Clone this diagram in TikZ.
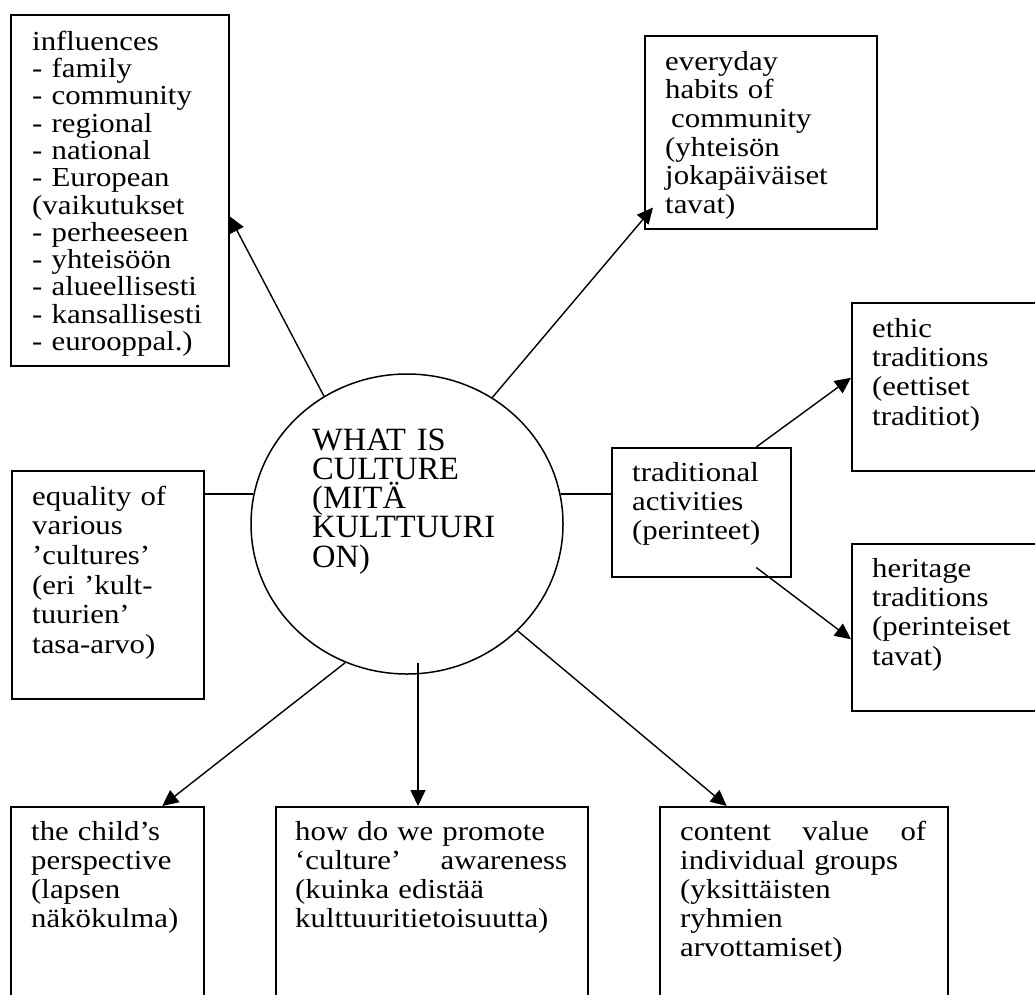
\documentclass[tikz,border=0pt]{standalone}
\usepackage{fontspec}
\setmainfont{Liberation Serif}[FakeStretch=1.12]
\newfontfamily\corefont{Liberation Serif}
\usetikzlibrary{shapes.geometric,arrows.meta,calc}

% first-line strut: puts every first baseline 20pt below the node top
\newcommand{\fl}{\rule{0pt}{20pt}}
\newcommand{\flc}{\rule{0pt}{24pt}}

\tikzset{
  box/.style={draw, rectangle, line width=1.5pt, inner sep=0pt, anchor=north west},
  txt/.style={anchor=north west, inner sep=0pt, align=left, text width=#1,
    font=\fontsize{27.5}{29.3}\selectfont},
  link/.style={line width=1.4pt},
  arr/.style={line width=1.4pt, -{Triangle[length=16pt,width=15pt]}}
}

\begin{document}
% keep the line pitch fixed even for tall glyphs
\lineskiplimit=-100pt
\lineskip=0pt
\begin{tikzpicture}[x=1pt,y=-1pt]
\useasboundingbox (0,0) rectangle (1035,994);
\clip (0,0) rectangle (1035,994);

% central ellipse
\node[draw, ellipse, line width=1.5pt, minimum width=312pt, minimum height=300pt, inner sep=0pt] (core) at (407,524) {};
\node[anchor=north west, inner sep=0pt, align=left, text width=230pt,
      font=\corefont\fontsize{32.5}{29.25}\selectfont] (coreT) at (312,426)
  {\flc WHAT IS\\CULTURE\\(MITÄ\\KULTTUURI\\ON)};

% surrounding boxes
\node[box, minimum width=218pt, minimum height=351pt] (inf) at (10,14) {};
\node[box, minimum width=232pt, minimum height=193pt] (every) at (644,35) {};
\node[box, minimum width=192pt, minimum height=228pt] (eq) at (11,470) {};
\node[box, minimum width=179pt, minimum height=129pt] (trad) at (611,447) {};
\node[box, minimum width=200pt, minimum height=168pt] (ethic) at (851,302) {};
\node[box, minimum width=200pt, minimum height=167pt] (herit) at (851,543) {};
\node[box, minimum width=193pt, minimum height=210pt] (child) at (10,806) {};
\node[box, minimum width=312pt, minimum height=210pt] (prom) at (275,806) {};
\node[box, minimum width=288pt, minimum height=210pt] (cont) at (659,806) {};

% box texts
\node[txt=195pt, font=\fontsize{27.5}{27.3}\selectfont] (infT) at (32,30)
  {\fl influences\\- family\\- community\\- regional\\- national\\- European\\(vaikutukset\\- perheeseen\\- yhteisöön\\- alueellisesti\\- kansallisesti\\- eurooppal.)};
\node[txt=205pt, font=\fontsize{27.5}{28.6}\selectfont] (everyT) at (665,50)
  {\fl everyday\\habits of\\\hspace*{6pt}community\\(yhteisön\\jokapäiväiset\\tavat)};
\node[txt=175pt, font=\fontsize{27.5}{29.6}\selectfont] (eqT) at (32,485)
  {\fl equality of\\various\\’cultures’\\(eri ’kult-\\tuurien’\\tasa-arvo)};
\node[txt=155pt] (tradT) at (632,461)
  {\fl traditional\\activities\\(perinteet)};
\node[txt=165pt] (ethicT) at (872,317)
  {\fl ethic\\traditions\\(eettiset\\traditiot)};
\node[txt=165pt] (heritT) at (872,557)
  {\fl heritage\\traditions\\(perinteiset\\tavat)};
\node[txt=175pt, font=\fontsize{27.5}{29}\selectfont] (childT) at (31,820)
  {\fl the child’s\\perspective\\(lapsen\\näkökulma)};
\node[txt=272pt, font=\fontsize{27.5}{29}\selectfont] (promT) at (295,820)
  {\fl how do we promote\\‘culture’\hfill awareness\\(kuinka edistää\\kulttuuritietoisuutta)};
\node[txt=246pt, font=\fontsize{27.5}{29}\selectfont] (contT) at (680,820)
  {\fl content\hfill value\hfill of\\individual groups\\(yksittäisten\\ryhmien\\arvottamiset)};

% connectors
\coordinate (promStart) at ($(core.south)+(11,-12)$);
\draw[arr] (core.123.5) -- ($(inf.east)+(0,26)$);
\draw[arr] (core.56.5) -- ($(every.south west)+(9,-22)$);
\draw[link] (core.169) -- (core.169 -| eq.east);
\draw[link] (core.11) -- (core.11 -| trad.west);
\draw[arr] ($(trad.north)+(55,0)$) -- ($(ethic.west)+(0,-9)$);
\draw[arr] ($(trad.south)+(55,-10)$) -- ($(herit.west)+(0,12)$);
\draw[arr] (core.-114.2) -- ($(child.north)+(55,0)$);
\draw[arr] (promStart) -- (promStart |- prom.north);
\draw[arr] (core.-44.5) -- ($(cont.north)+(-77,0)$);
\end{tikzpicture}
\end{document}
